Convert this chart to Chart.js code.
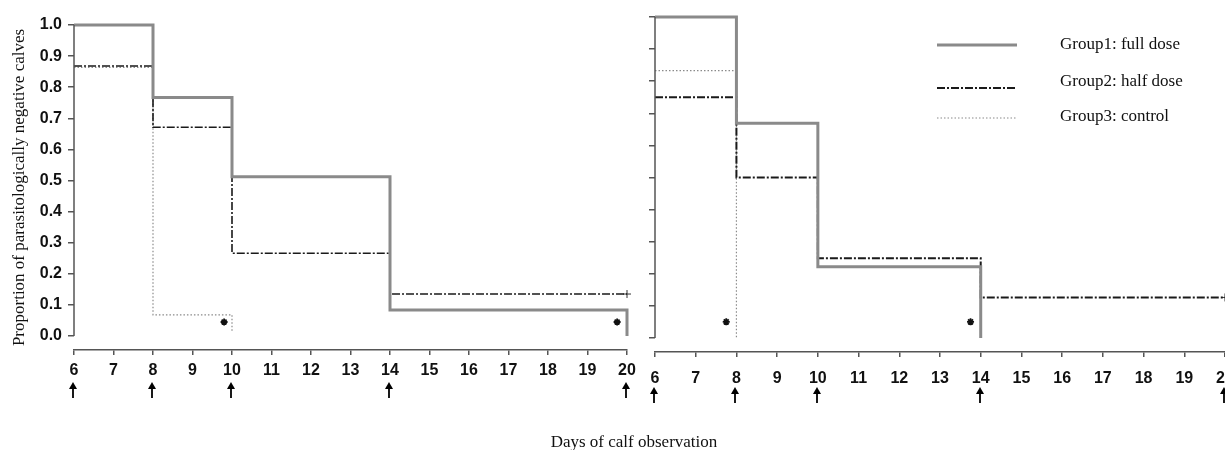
<!DOCTYPE html>
<html lang="en">
<head>
<meta charset="UTF-8">
<title>Proportion of parasitologically negative calves</title>
<script src="https://cdn.jsdelivr.net/npm/chart.js"></script>
<style>
  body { margin: 0; width: 1225px; height: 450px; overflow: hidden; background: #fff; position: relative; }
  canvas { position: absolute; top: 0; }
  #left { left: 0; }
  #right { left: 615px; }
  #xtitle { position: absolute; left: 0; width: 1268px; top: 432px; text-align: center;
            font: 17px "Liberation Serif", serif; color: #111; }
</style>
</head>
<body>
<canvas id="left" width="640" height="450"></canvas>
<canvas id="right" width="640" height="450"></canvas>
<div id="xtitle">Days of calf observation</div>

<script>
// ---- data ----
const dayTicks = [6, 7, 8, 9, 10, 11, 12, 13, 14, 15, 16, 17, 18, 19, 20];
const yTicks = [0, 0.1, 0.2, 0.3, 0.4, 0.5, 0.6, 0.7, 0.8, 0.9, 1.0];
const arrowDays = [6, 8, 10, 14, 20];
const groupNames = ['Group1: full dose', 'Group2: half dose', 'Group3: control'];

// left panel
const g1DaysL = [6, 8, 10, 14, 20];
const g1ValsL = [1.0, 0.767, 0.512, 0.084, 0.0];
const g2DaysL = [6, 8, 10, 14, 20];
const g2ValsL = [0.868, 0.671, 0.266, 0.135, 0.135];
const g3DaysL = [6, 8, 10];
const g3ValsL = [0.864, 0.068, 0.016];
const censorDaysL = [20];
const censorValsL = [0.135];
const starDaysL = [9.8, 19.75];
const starValsL = [0.045, 0.045];

// right panel
const g1DaysR = [6, 8, 10, 14];
const g1ValsR = [1.0, 0.669, 0.222, 0.0];
const g2DaysR = [6, 8, 10, 14, 20];
const g2ValsR = [0.75, 0.50, 0.248, 0.126, 0.126];
const g3DaysR = [6, 8];
const g3ValsR = [0.833, 0.0];
const censorDaysR = [20];
const censorValsR = [0.126];
const starDaysR = [7.75, 13.75];
const starValsR = [0.05, 0.05];

const pts = (xs, ys) => xs.map((x, i) => ({x: x, y: ys[i]}));
const tickFont = {family: '"Liberation Sans Narrow", "Liberation Sans", sans-serif', size: 16, weight: 'bold'};

function makeDatasets(g1, g2, g3, censor, stars, dashWidth) {
    return [{
        label: groupNames[0], data: g1, stepped: 'before',
        borderColor: '#8a8a8a', borderWidth: 3, pointRadius: 0, clip: false
    }, {
        label: groupNames[1], data: g2, stepped: 'before',
        borderColor: '#1a1a1a', borderWidth: dashWidth, borderDash: [8, 2, 2, 2], pointRadius: 0, clip: false
    }, {
        label: groupNames[2], data: g3, stepped: 'before',
        borderColor: '#8a8a8a', borderWidth: 1.2, borderDash: [1.5, 2], pointRadius: 0, clip: false
    }, {
        label: 'censored', data: censor, showLine: false,
        pointStyle: 'cross', pointRadius: 4, borderColor: '#333', borderWidth: 1, clip: false
    }, {
        label: 'significant', data: stars, showLine: false,
        pointStyle: 'star', pointRadius: 3.5, borderColor: '#111', borderWidth: 1.8, clip: false
    }];
}

// y axis line (0 to 1 only) and the sampling arrows under the day axis
const axisExtras = {
    id: 'axisExtras',
    afterDraw(chart, args, opts) {
        const {ctx, chartArea, scales: {x, y}} = chart;
        ctx.save();
        ctx.strokeStyle = '#555';
        ctx.lineWidth = 1.5;
        ctx.beginPath();
        ctx.moveTo(chartArea.left, y.getPixelForValue(0));
        ctx.lineTo(chartArea.left, y.getPixelForValue(1));
        ctx.stroke();

        ctx.strokeStyle = '#000';
        ctx.fillStyle = '#000';
        ctx.lineWidth = 1.8;
        arrowDays.forEach(d => {
            const px = Math.round(x.getPixelForValue(d)) - 1;
            const tip = opts.arrowTop;
            ctx.beginPath();
            ctx.moveTo(px, tip + 5);
            ctx.lineTo(px, tip + 16);
            ctx.stroke();
            ctx.beginPath();
            ctx.moveTo(px, tip);
            ctx.lineTo(px - 4, tip + 7);
            ctx.lineTo(px + 4, tip + 7);
            ctx.closePath();
            ctx.fill();
        });
        ctx.restore();
    }
};

// legend drawn with the dataset styles, in the right panel
const legendBox = {
    id: 'legendBox',
    afterDraw(chart, args, opts) {
        if (!opts.show) return;
        const ctx = chart.ctx;
        ctx.save();
        chart.data.datasets.slice(0, 3).forEach((ds, i) => {
            ctx.strokeStyle = ds.borderColor;
            ctx.lineWidth = ds.borderWidth;
            ctx.setLineDash(ds.borderDash || []);
            ctx.beginPath();
            ctx.moveTo(opts.x0, opts.lineY[i]);
            ctx.lineTo(opts.x1, opts.lineY[i]);
            ctx.stroke();
            ctx.setLineDash([]);
            ctx.fillStyle = '#111';
            ctx.font = '17px "Liberation Serif"';
            ctx.textBaseline = 'middle';
            ctx.fillText(ds.label, opts.textX, opts.textY[i]);
        });
        ctx.restore();
    }
};

function panelOptions(p) {
    return {
        responsive: false,
        animation: false,
        layout: {padding: {top: p.top, left: p.left, right: p.right, bottom: p.bottom}},
        plugins: {
            legend: {display: false},
            tooltip: {enabled: false},
            axisExtras: {arrowTop: p.arrowTop},
            legendBox: p.legend
        },
        scales: {
            x: {
                type: 'linear', min: 6, max: 20,
                afterBuildTicks: ax => { ax.ticks = dayTicks.map(v => ({value: v})); },
                afterFit: ax => { ax.height = 60; ax.paddingLeft = 0; ax.paddingRight = 0; },
                grid: {drawOnChartArea: false, drawTicks: true, tickLength: 5, color: '#555', lineWidth: 1.5},
                border: {display: true, color: '#555', width: 1.5},
                ticks: {color: '#111', font: tickFont, padding: p.xPad, maxRotation: 0, autoSkip: false}
            },
            y: {
                type: 'linear', min: p.ymin, max: 1.0,
                afterBuildTicks: ax => { ax.ticks = yTicks.map(v => ({value: v})); },
                afterFit: ax => { ax.width = p.yWidth; ax.paddingTop = 0; ax.paddingBottom = 0; },
                grid: {drawOnChartArea: false, drawTicks: true, tickLength: 6, color: '#555', lineWidth: 1.5},
                border: {display: false},
                ticks: {display: p.yLabels, color: '#111', font: tickFont, padding: 6,
                        callback: v => v.toFixed(1)},
                title: {display: !!p.yTitle, text: p.yTitle, color: '#111',
                        font: {family: 'Liberation Serif', size: 17}, padding: {top: 4, bottom: 4}}
            }
        }
    };
}

new Chart(document.getElementById('left'), {
    type: 'line',
    data: {datasets: makeDatasets(pts(g1DaysL, g1ValsL), pts(g2DaysL, g2ValsL), pts(g3DaysL, g3ValsL),
                                  pts(censorDaysL, censorValsL), pts(starDaysL, starValsL), 1.6)},
    options: panelOptions({top: 25, left: 5, right: 13, bottom: 40, yWidth: 69, ymin: -0.045,
                           xPad: 6, arrowTop: 382, yLabels: true,
                           yTitle: 'Proportion of parasitologically negative calves',
                           legend: {show: false}}),
    plugins: [axisExtras, legendBox]
});

new Chart(document.getElementById('right'), {
    type: 'line',
    data: {datasets: makeDatasets(pts(g1DaysR, g1ValsR), pts(g2DaysR, g2ValsR), pts(g3DaysR, g3ValsR),
                                  pts(censorDaysR, censorValsR), pts(starDaysR, starValsR), 2)},
    options: panelOptions({top: 17, left: 10, right: 30, bottom: 38, yWidth: 30, ymin: -0.044,
                           xPad: 12, arrowTop: 387, yLabels: false, yTitle: '',
                           legend: {show: true, x0: 322, x1: 402, textX: 445,
                                    lineY: [45, 88, 118], textY: [45, 82, 117]}}),
    plugins: [axisExtras, legendBox]
});
</script>
</body>
</html>
